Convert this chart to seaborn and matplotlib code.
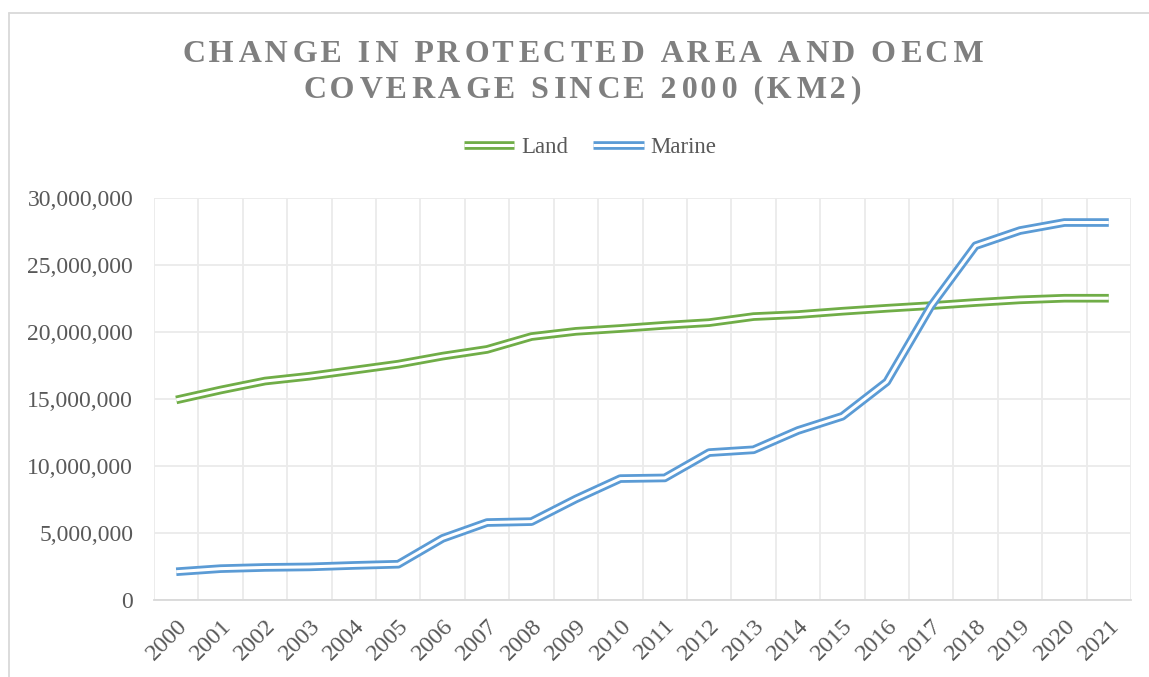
import numpy as np
import pandas as pd
import matplotlib
matplotlib.use("Agg")
import matplotlib.pyplot as plt
import matplotlib.patheffects as pe
from matplotlib.ticker import FuncFormatter
from matplotlib.lines import Line2D
import seaborn as sns

years = [str(y) for y in range(2000, 2022)]
land = [14.93, 15.67, 16.34, 16.70, 17.15, 17.60, 18.20, 18.70, 19.66, 20.05, 20.26,
        20.50, 20.70, 21.15, 21.30, 21.55, 21.77, 21.97, 22.20, 22.40, 22.52, 22.52]
marine = [2.11, 2.34, 2.43, 2.47, 2.58, 2.67, 4.60, 5.78, 5.85, 7.54, 9.06,
          9.11, 11.00, 11.21, 12.65, 13.71, 16.28, 21.95, 26.44, 27.57, 28.17, 28.17]
land = [v * 1e6 for v in land]
marine = [v * 1e6 for v in marine]
series_names = ["Land", "Marine"]
colors = {"Land": "#70ad47", "Marine": "#5b9bd5"}
title = "CHANGE IN PROTECTED AREA AND OECM\nCOVERAGE SINCE 2000 (KM2)"

sns.set_theme(style="white")
plt.rcParams["font.family"] = ["Liberation Serif", "DejaVu Serif"]

W, H = 1149, 677
fig = plt.figure(figsize=(W / 100, H / 100), dpi=100)
ax = fig.add_axes([154 / W, 1 - 600 / H, (1131 - 154) / W, (600 - 198) / H])

df = pd.DataFrame({
    "idx": list(range(len(years))) * 2,
    "value": land + marine,
    "series": ["Land"] * len(years) + ["Marine"] * len(years),
})

OUTER, INNER = 6.2, 2.2


def double_effect(c):
    return [pe.Stroke(linewidth=OUTER, foreground=c, capstyle="butt"), pe.Normal()]


for name in series_names:
    sub = df[df["series"] == name]
    sns.lineplot(data=sub, x="idx", y="value", ax=ax, color="white", linewidth=INNER,
                 label=name, legend=False, solid_capstyle="butt",
                 path_effects=double_effect(colors[name]))

ax.set_xlim(-0.5, len(years) - 0.5)
ax.set_ylim(0, 30e6)
ax.set_yticks(np.arange(0, 30e6 + 1, 5e6))
ax.yaxis.set_major_formatter(FuncFormatter(lambda v, p: f"{int(v):,}"))
ax.set_xticks(range(len(years)))
ax.set_xticklabels(years, rotation=45, ha="right", va="top", rotation_mode="anchor")
ax.set_xticks(np.arange(-0.5, len(years), 1.0), minor=True)
ax.tick_params(axis="both", which="both", length=0)
ax.tick_params(axis="y", pad=15, labelsize=17, labelcolor="#595959")
ax.tick_params(axis="x", pad=11, labelsize=17.5, labelcolor="#595959")
ax.grid(True, axis="y", which="major", color="#ebebeb", linewidth=1.3)
ax.grid(True, axis="x", which="minor", color="#ebebeb", linewidth=1.3)
ax.grid(False, axis="x", which="major")
for s in ["top", "right", "left"]:
    ax.spines[s].set_visible(False)
ax.spines["bottom"].set_color("#d9d9d9")
ax.spines["bottom"].set_linewidth(1.3)
ax.set_xlabel("")
ax.set_ylabel("")

# title with letter spacing (hair spaces between characters)
hs = "\u200a"
spaced_lines = []
for line in title.split("\n"):
    out = ""
    for i, ch in enumerate(line):
        out += ch
        if i < len(line) - 1:
            out += hs * (2 if i % 2 else 1)
    spaced_lines.append(out)
fig.text(583 / W, 1 - 72 / H, "\n".join(spaced_lines), ha="center", va="center",
         fontsize=23, fontweight="bold", color="#7f7f7f", linespacing=1.27)

handles = []
for name in series_names:
    handles.append(Line2D([], [], color="white", linewidth=INNER, solid_capstyle="butt",
                          path_effects=double_effect(colors[name])))
fig.legend(handles, series_names, loc="center", bbox_to_anchor=(590 / W, 1 - 147 / H),
           ncol=2, frameon=False, fontsize=16.5, labelcolor="#595959",
           handlelength=2.2, handletextpad=0.3, columnspacing=1.1)

# chart area border
fig.add_artist(Line2D([8.5 / W, 8.5 / W], [0, 1 - 12.5 / H], color="#d9d9d9",
                      linewidth=1.3, transform=fig.transFigure))
fig.add_artist(Line2D([8.5 / W, 1], [1 - 12.5 / H, 1 - 12.5 / H], color="#d9d9d9",
                      linewidth=1.3, transform=fig.transFigure))

fig.savefig("out.png", dpi=100)
